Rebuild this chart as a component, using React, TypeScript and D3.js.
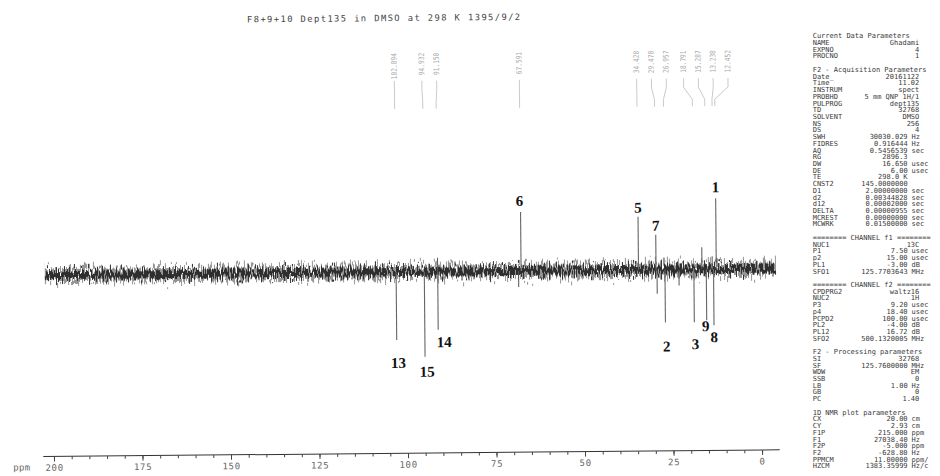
import React, { useEffect, useRef } from 'react';
import * as d3 from 'd3';

const title = 'F8+9+10 Dept135 in DMSO at 298 K 1395/9/2';

// labelled DEPT-135 lines: ppm and intensity (+ up, - down)
const peakLabels = ['1', '2', '3', '5', '6', '7', '8', '9', '13', '14', '15'];
const peakPpm = [12.452, 26.957, 18.791, 34.428, 67.591, 29.47, 13.238, 15.287, 102.894, 91.15, 94.932];
const peakIntensity = [0.71, -0.53, -0.53, 0.53, 0.59, 0.35, -0.56, -0.51, -0.68, -0.58, -0.85];

// smaller lines standing out of the noise, no label
const minorPpm = [29.2, 16.5, 13.6, 91.15, 23.0, 68.3];
const minorIntensity = [-0.24, 0.22, 0.13, 0.14, -0.16, -0.16];

// printed peak list at the top
const peakListPpm = [102.894, 94.932, 91.15, 67.591, 34.428, 29.47, 26.957, 18.791, 15.287, 13.238, 12.452];

const axisTicks = [200, 175, 150, 125, 100, 75, 50, 25, 0];
const spectrumStart = 202.1;
const spectrumEnd = -4.4;
const noiseLevel = 0.06;

type Row = [string, string, string?];

const currentDataParams: Row[] = [
  ['NAME', 'Ghadami'],
  ['EXPNO', '4'],
  ['PROCNO', '1'],
];
const acquisitionParams: Row[] = [
  ['Date_', '20161122'],
  ['Time', '11.02'],
  ['INSTRUM', 'spect'],
  ['PROBHD', '5 mm QNP   1H/1'],
  ['PULPROG', 'dept135'],
  ['TD', '32768'],
  ['SOLVENT', 'DMSO'],
  ['NS', '256'],
  ['DS', '4'],
  ['SWH', '30030.029', 'Hz'],
  ['FIDRES', '0.916444', 'Hz'],
  ['AQ', '0.5456539', 'sec'],
  ['RG', '2896.3', ''],
  ['DW', '16.650', 'usec'],
  ['DE', '6.00', 'usec'],
  ['TE', '298.0 K', ''],
  ['CNST2', '145.0000000', ''],
  ['D1', '2.00000000', 'sec'],
  ['d2', '0.00344828', 'sec'],
  ['d12', '0.00002000', 'sec'],
  ['DELTA', '0.00000955', 'sec'],
  ['MCREST', '0.00000000', 'sec'],
  ['MCWRK', '0.01500000', 'sec'],
];
const channelF1Params: Row[] = [
  ['NUC1', '13C'],
  ['P1', '7.50', 'usec'],
  ['p2', '15.00', 'usec'],
  ['PL1', '-3.00', 'dB'],
  ['SFO1', '125.7703643', 'MHz'],
];
const channelF2Params: Row[] = [
  ['CPDPRG2', 'waltz16'],
  ['NUC2', '1H'],
  ['P3', '9.20', 'usec'],
  ['p4', '18.40', 'usec'],
  ['PCPD2', '100.00', 'usec'],
  ['PL2', '-4.00', 'dB'],
  ['PL12', '16.72', 'dB'],
  ['SFO2', '500.1320005', 'MHz'],
];
const processingParams: Row[] = [
  ['SI', '32768'],
  ['SF', '125.7600000', 'MHz'],
  ['WDW', 'EM'],
  ['SSB', '0'],
  ['LB', '1.00', 'Hz'],
  ['GB', '0'],
  ['PC', '1.40'],
];
const plotParams: Row[] = [
  ['CX', '20.00', 'cm'],
  ['CY', '2.93', 'cm'],
  ['F1P', '215.000', 'ppm'],
  ['F1', '27038.40', 'Hz'],
  ['F2P', '-5.000', 'ppm'],
  ['F2', '-628.80', 'Hz'],
  ['PPMCM', '11.00000', 'ppm/'],
  ['HZCM', '1383.35999', 'Hz/c'],
];

const paramSections: [string, Row[]][] = [
  ['Current Data Parameters', currentDataParams],
  ['F2 - Acquisition Parameters', acquisitionParams],
  ['======== CHANNEL f1 ========', channelF1Params],
  ['======== CHANNEL f2 ========', channelF2Params],
  ['F2 - Processing parameters', processingParams],
  ['1D NMR plot parameters', plotParams],
];

// hand placement of the bold numbers, relative to the line tip (px)
const labelNudge: Record<string, [number, number]> = {
  '1': [0, -11], '5': [0, -9], '6': [-1, -11], '7': [0, -9],
  '2': [1, 24], '3': [1, 22], '9': [-1, 6], '8': [0, 12],
  '13': [1.5, 23], '15': [2, 15], '14': [6, 12.5],
};

// spread crowded peak-list labels like the plotter does
function spreadLabels(xs: number[], gap: number) {
  let clusters = xs.map(v => ({ ideal: [v], pos: [v] }));
  let merged = true;
  while (merged) {
    merged = false;
    for (let i = 1; i < clusters.length; i++) {
      const a = clusters[i - 1], b = clusters[i];
      if (b.pos[0] - a.pos[a.pos.length - 1] < gap) {
        const ideal = a.ideal.concat(b.ideal);
        const mean = d3.mean(ideal)!;
        const n = ideal.length;
        const pos = ideal.map((_, k) => mean + (k - (n - 1) / 2) * gap);
        clusters.splice(i - 1, 2, { ideal, pos });
        merged = true;
        break;
      }
    }
  }
  return clusters.flatMap(c => c.pos);
}

export default function App() {
  const axisRef = useRef<SVGGElement>(null);

  const x = d3.scaleLinear().domain([200, 0]).range([52.3, 760.4]);
  const baseY = 272;
  const y = d3.scaleLinear().domain([-1, 1]).range([baseY + 100, baseY - 100]);
  const axisY = 453.3;

  useEffect(() => {
    const g = d3.select(axisRef.current);
    g.selectAll('*').remove();
    g.append('line')
      .attr('x1', x(203)).attr('x2', x(-5))
      .attr('y1', 0).attr('y2', 0)
      .attr('stroke', '#333').attr('stroke-width', 1);
    const minor = g.append('g')
      .call(d3.axisBottom(x).tickValues(d3.range(200, -1, -5)).tickSize(3).tickFormat(() => ''));
    minor.select('.domain').remove();
    const major = g.append('g')
      .call(d3.axisBottom(x).tickValues(axisTicks).tickSize(5).tickPadding(3).tickFormat(d3.format('d')));
    major.select('.domain').remove();
    g.selectAll('.tick line').attr('stroke', '#444');
    major.selectAll('text')
      .attr('font-family', 'DejaVu Sans Mono')
      .attr('font-size', 9)
      .attr('letter-spacing', 0.7)
      .attr('fill', '#666');
  }, []);

  const line = d3.line<[number, number]>().x(d => x(d[0])).y(d => y(d[1]));
  const band = line([[spectrumStart, 0], [spectrumEnd, 0]]) || '';
  const bandW = y(-noiseLevel) - y(noiseLevel);

  const listX = spreadLabels(peakListPpm.map(p => x(p)), 14.8);

  let lineIdx = 0;
  const panelLines: { key: string; i: number; row?: Row; head?: string }[] = [];
  paramSections.forEach(([head, rows], s) => {
    if (s > 0) lineIdx++;
    panelLines.push({ key: head, i: lineIdx++, head });
    rows.forEach(r => panelLines.push({ key: head + r[0], i: lineIdx++, row: r }));
  });
  const rowY = (i: number) => 35.7 + 6.72 * i + 2.6;

  return (
    <svg width={940} height={476} style={{ position: 'absolute', left: 0, top: 0, background: '#fff' }}>
      <defs>
        <filter id="jitter" filterUnits="userSpaceOnUse" x={0} y={200} width={940} height={150} colorInterpolationFilters="sRGB">
          <feTurbulence type="fractalNoise" baseFrequency="0.85 0.09" numOctaves={2} seed={4} result="n" />
          <feColorMatrix in="n" type="matrix" values="0 0 0 0 0.5  0 1 0 0 0  0 0 0 0 0  0 0 0 0 1" result="m" />
          <feDisplacementMap in="SourceGraphic" in2="m" scale={22} xChannelSelector="R" yChannelSelector="G" />
        </filter>
        <filter id="jitter2" filterUnits="userSpaceOnUse" x={0} y={200} width={940} height={150} colorInterpolationFilters="sRGB">
          <feTurbulence type="fractalNoise" baseFrequency="0.7 0.12" numOctaves={2} seed={11} result="n" />
          <feColorMatrix in="n" type="matrix" values="0 0 0 0 0.5  0 1 0 0 0  0 0 0 0 0  0 0 0 0 1" result="m" />
          <feDisplacementMap in="SourceGraphic" in2="m" scale={28} xChannelSelector="R" yChannelSelector="G" />
        </filter>
      </defs>

      <g transform={`rotate(-0.52, 400, ${baseY})`}>
        <text x={249.3} y={21} fontFamily="DejaVu Sans Mono" fontSize={8.8} letterSpacing={1.4} fill="#444">
          {title}
        </text>

        {/* printed peak list */}
        {peakListPpm.map((p, i) => {
          const xl = listX[i];
          const xp = x(p);
          return (
            <g key={'pl' + i}>
              <text
                transform={`translate(${xl + 2.4},53) rotate(-90) scale(0.83,1)`}
                textAnchor="end"
                fontFamily="DejaVu Sans Mono"
                fontSize={7.5}
                fill="#a8a8a8"
              >
                {d3.format('.3f')(p)}
              </text>
              <path
                d={`M${xl},81 V90 L${xp},102 V109`}
                fill="none"
                stroke="#bdbdbd"
                strokeWidth={0.8}
              />
            </g>
          );
        })}

        {/* baseline noise */}
        <path d={band} stroke="#7a7a7a" strokeWidth={bandW} strokeOpacity={0.8} filter="url(#jitter2)" fill="none" />
        <path d={band} stroke="#2e2e2e" strokeWidth={bandW - 4} filter="url(#jitter)" fill="none" />

        {/* signals */}
        {minorPpm.map((p, i) => (
          <path key={'m' + i} d={line([[p, 0], [p, minorIntensity[i]]]) || ''} stroke="#555" strokeWidth={1} />
        ))}
        {peakPpm.map((p, i) => (
          <path key={'p' + i} d={line([[p, 0], [p, peakIntensity[i]]]) || ''} stroke="#666" strokeWidth={1.1} />
        ))}
        {peakLabels.map((lab, i) => {
          const [dx, dy] = labelNudge[lab];
          return (
            <text
              key={'l' + lab}
              x={x(peakPpm[i]) + dx}
              y={y(peakIntensity[i]) + dy + 5}
              textAnchor="middle"
              fontFamily="Liberation Serif"
              fontWeight="bold"
              fontSize={15}
              fill="#111"
            >
              {lab}
            </text>
          );
        })}

        <g ref={axisRef} transform={`translate(0,${axisY})`} />
        <text x={11.4} y={467} fontFamily="DejaVu Sans Mono" fontSize={9} letterSpacing={0.4} fill="#666">ppm</text>
      </g>

      {/* parameter listing */}
      <g fontFamily="DejaVu Sans Mono" fontSize={7} fill="#3a3a3a" style={{ whiteSpace: 'pre' }}>
        {panelLines.map(l => {
          const yy = rowY(l.i);
          if (l.head) return <text key={l.key} x={812.7} y={yy}>{l.head}</text>;
          const [name, value, unit] = l.row!;
          return (
            <g key={l.key}>
              <text x={812.7} y={yy}>{name}</text>
              <text x={unit === undefined ? 919.3 : 907.6} y={yy} textAnchor="end">{value}</text>
              {unit ? <text x={911.6} y={yy}>{unit}</text> : null}
            </g>
          );
        })}
      </g>
    </svg>
  );
}
